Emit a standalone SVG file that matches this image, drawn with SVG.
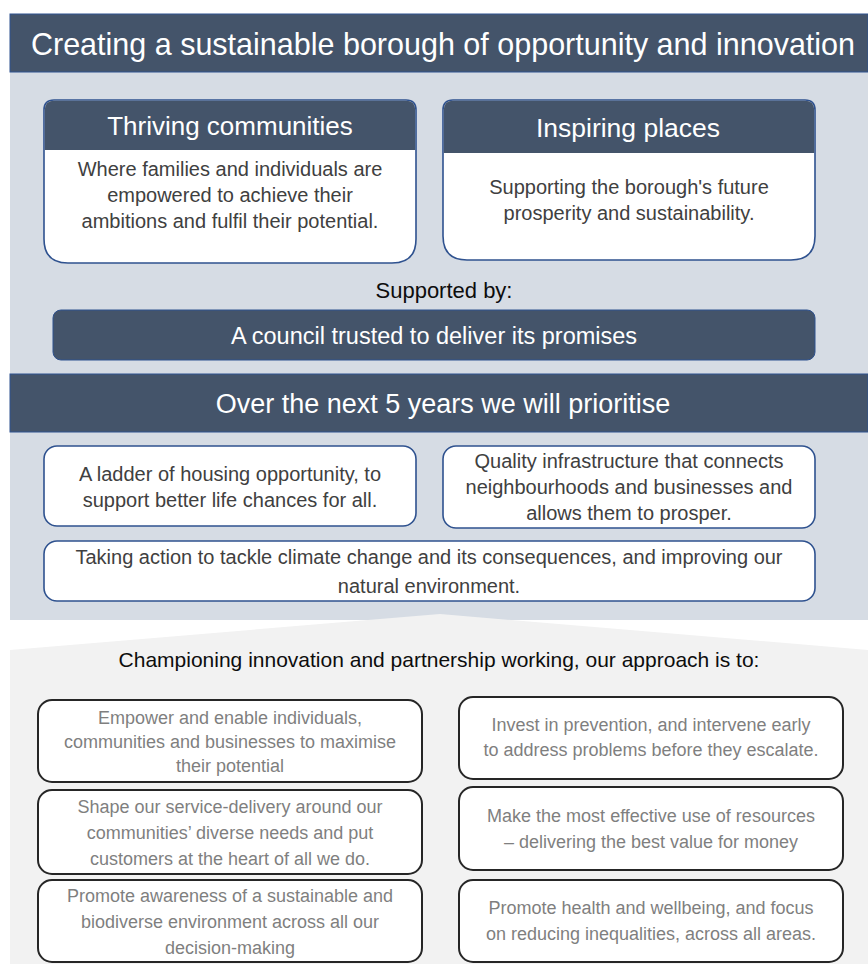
<svg xmlns="http://www.w3.org/2000/svg" width="868" height="964" viewBox="0 0 868 964">
  <style>
    text { font-family: "Liberation Sans", Arial, sans-serif; text-anchor: middle; }
    .band { fill: #44546A; stroke: #2F528F; stroke-width: 1; }
    .bandText { fill: #FFFFFF; }
    .head { fill: #44546A; }
    .card { fill: #FFFFFF; stroke: #2F528F; stroke-width: 1.6; }
    .cardText { fill: #404040; font-size: 20px; }
    .approach { fill: #FFFFFF; stroke: #262626; stroke-width: 2; }
    .approachText { fill: #7F7F7F; font-size: 18px; }
  </style>

  <!-- section backgrounds -->
  <rect x="10" y="72" width="858" height="548" fill="#D6DCE4"/>
  <path d="M10,650 L440,614 L868,650 L868,964 L10,964 Z" fill="#F2F2F2"/>

  <!-- vision banner -->
  <g id="vision">
    <rect class="band" x="10" y="14" width="858" height="58"/>
    <text class="bandText" x="443" y="55" font-size="30.5">Creating a sustainable borough of opportunity and innovation</text>
  </g>

  <g id="thriving-communities">
    <path class="card" d="M54,100 H406 Q416,100 416,110 V239 Q416,263 392,263 H68 Q44,263 44,239 V110 Q44,100 54,100 Z"/>
    <path class="head" d="M54,100.8 H406 Q415.2,100.8 415.2,110 V150 H44.8 V110 Q44.8,100.8 54,100.8 Z"/>
    <text class="bandText" x="230" y="135" font-size="26">Thriving communities</text>
    <text class="cardText" x="230" y="176">Where families and individuals are</text>
    <text class="cardText" x="230" y="202">empowered to achieve their</text>
    <text class="cardText" x="230" y="228">ambitions and fulfil their potential.</text>
  </g>

  <g id="inspiring-places">
    <path class="card" d="M453,100 H805 Q815,100 815,110 V236 Q815,260 791,260 H467 Q443,260 443,236 V110 Q443,100 453,100 Z"/>
    <path class="head" d="M453,100.8 H805 Q814.2,100.8 814.2,110 V153 H443.8 V110 Q443.8,100.8 453,100.8 Z"/>
    <text class="bandText" x="628" y="137" font-size="26.5">Inspiring places</text>
    <text class="cardText" x="629" y="194">Supporting the borough's future</text>
    <text class="cardText" x="629" y="220">prosperity and sustainability.</text>
  </g>

  <g id="supported-by">
    <text x="444" y="298" font-size="22" fill="#0D0D0D">Supported by:</text>
  </g>

  <g id="trusted-council">
    <rect class="band" x="53" y="310" width="762" height="50" rx="8"/>
    <text class="bandText" x="434" y="344" font-size="23.5">A council trusted to deliver its promises</text>
  </g>

  <g id="priorities">
    <rect class="band" x="10" y="374" width="858" height="58"/>
    <text class="bandText" x="443" y="413" font-size="27">Over the next 5 years we will prioritise</text>
  </g>

  <g id="housing">
    <rect class="card" x="44" y="446" width="372" height="80" rx="13"/>
    <text class="cardText" x="230" y="481">A ladder of housing opportunity, to</text>
    <text class="cardText" x="230" y="507">support better life chances for all.</text>
  </g>

  <g id="infrastructure">
    <rect class="card" x="443" y="446" width="372" height="82" rx="13"/>
    <text class="cardText" x="629" y="468">Quality infrastructure that connects</text>
    <text class="cardText" x="629" y="494">neighbourhoods and businesses and</text>
    <text class="cardText" x="629" y="520">allows them to prosper.</text>
  </g>

  <g id="climate">
    <rect class="card" x="44" y="541" width="771" height="60" rx="13"/>
    <text class="cardText" x="429" y="564">Taking action to tackle climate change and its consequences, and improving our</text>
    <text class="cardText" x="429" y="593">natural environment.</text>
  </g>

  <g id="approach-intro">
    <text x="439" y="667" font-size="21" fill="#0D0D0D">Championing innovation and partnership working, our approach is to:</text>
  </g>

  <g id="empower">
    <rect class="approach" x="38" y="700" width="384" height="82" rx="14"/>
    <text class="approachText" x="230" y="724">Empower and enable individuals,</text>
    <text class="approachText" x="230" y="748">communities and businesses to maximise</text>
    <text class="approachText" x="230" y="772">their potential</text>
  </g>

  <g id="service-delivery">
    <rect class="approach" x="38" y="790" width="384" height="84" rx="14"/>
    <text class="approachText" x="230" y="813">Shape our service-delivery  around our</text>
    <text class="approachText" x="230" y="839">communities’ diverse needs and put</text>
    <text class="approachText" x="230" y="865">customers at the heart of all we do.</text>
  </g>

  <g id="biodiversity">
    <rect class="approach" x="38" y="880" width="384" height="82" rx="14"/>
    <text class="approachText" x="230" y="902">Promote awareness of a sustainable and</text>
    <text class="approachText" x="230" y="928">biodiverse environment across all our</text>
    <text class="approachText" x="230" y="954">decision-making</text>
  </g>

  <g id="prevention">
    <rect class="approach" x="459" y="697" width="384" height="82" rx="14"/>
    <text class="approachText" x="651" y="731">Invest in prevention, and intervene early</text>
    <text class="approachText" x="651" y="756">to address problems before they escalate.</text>
  </g>

  <g id="resources">
    <rect class="approach" x="459" y="787" width="384" height="83" rx="14"/>
    <text class="approachText" x="651" y="822">Make the most effective use of resources</text>
    <text class="approachText" x="651" y="848">– delivering the best value for money</text>
  </g>

  <g id="wellbeing">
    <rect class="approach" x="459" y="880" width="384" height="82" rx="14"/>
    <text class="approachText" x="651" y="914">Promote health and wellbeing, and focus</text>
    <text class="approachText" x="651" y="940">on reducing inequalities, across all areas.</text>
  </g>

  <!-- this layout has no connectors -->
  <g id="connectors"/>
</svg>
